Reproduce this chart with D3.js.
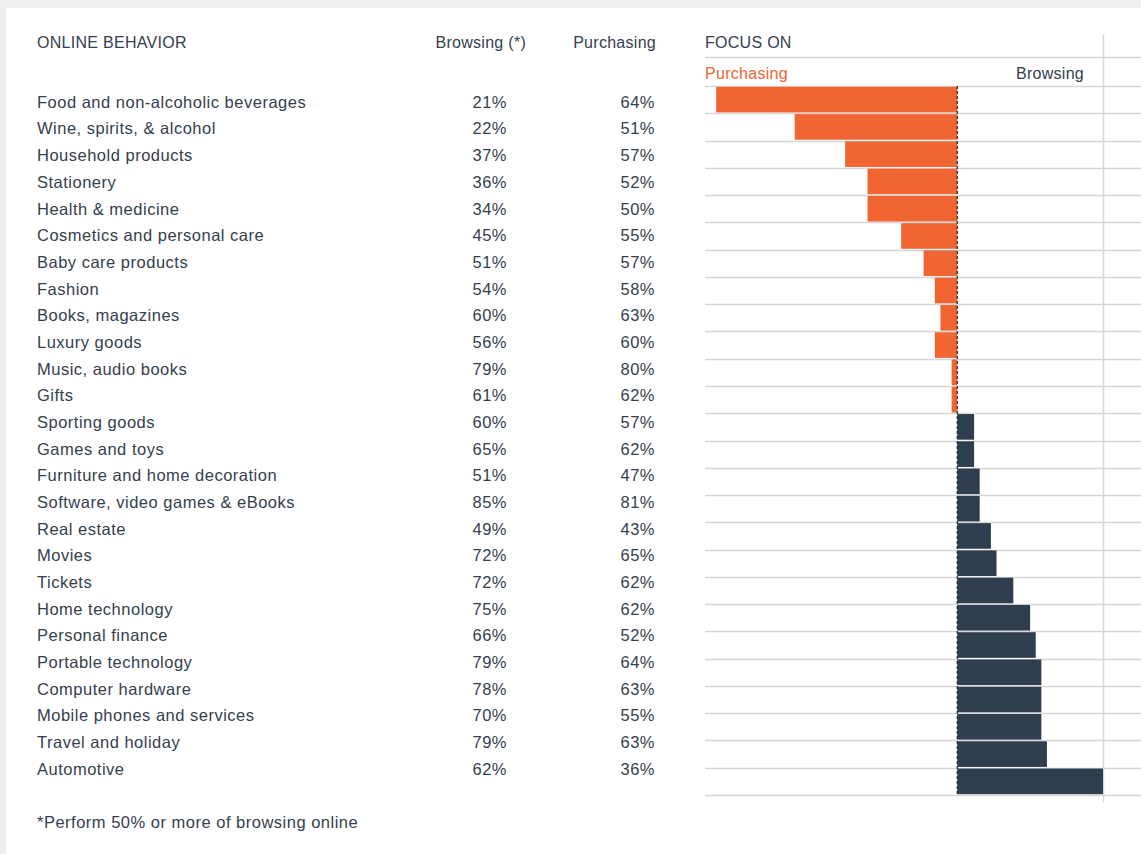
<!DOCTYPE html>
<html>
<head>
<meta charset="utf-8">
<script src="https://cdn.jsdelivr.net/npm/d3@7"></script>
<style>
  html, body { margin: 0; padding: 0; background: #efefef; }
  svg { display: block; font-family: "Liberation Sans", Arial, Helvetica, sans-serif; }
  .head { font-size: 16px; letter-spacing: 0.28px; }
  .body { font-size: 16.5px; letter-spacing: 0.5px; }
</style>
</head>
<body>
<svg id="chart" width="1141" height="854"></svg>
<script>
// Share of consumers doing each activity online, per product category
const categories = [
  "Food and non-alcoholic beverages", "Wine, spirits, & alcohol", "Household products",
  "Stationery", "Health & medicine", "Cosmetics and personal care", "Baby care products",
  "Fashion", "Books, magazines", "Luxury goods", "Music, audio books", "Gifts",
  "Sporting goods", "Games and toys", "Furniture and home decoration",
  "Software, video games & eBooks", "Real estate", "Movies", "Tickets", "Home technology",
  "Personal finance", "Portable technology", "Computer hardware",
  "Mobile phones and services", "Travel and holiday", "Automotive"
];
const browsing   = [21, 22, 37, 36, 34, 45, 51, 54, 60, 56, 79, 61, 60, 65, 51, 85, 49, 72, 72, 75, 66, 79, 78, 70, 79, 62];
const purchasing = [64, 51, 57, 52, 50, 55, 57, 58, 63, 60, 80, 62, 57, 62, 47, 81, 43, 65, 62, 62, 52, 64, 63, 55, 63, 36];

const headers = { behavior: "ONLINE BEHAVIOR", browsing: "Browsing (*)", purchasing: "Purchasing", focus: "FOCUS ON" };
const focusLabels = { left: "Purchasing", right: "Browsing" };
const footnote = "*Perform 50% or more of browsing online";

const rows = categories.map((c, i) => ({
  name: c, browsing: browsing[i], purchasing: purchasing[i], focus: browsing[i] - purchasing[i]
}));

const textColor = "#34404e";
const orange = "#f16532";
const navy = "#2e3e4e";
const gridColor = "#d6d6d6";

const svg = d3.select("#chart");

// page panel
svg.append("rect").attr("x", 0).attr("y", 0).attr("width", 1141).attr("height", 854).attr("fill", "#efefef");
svg.append("rect").attr("x", 6).attr("y", 8).attr("width", 1135).attr("height", 846).attr("fill", "#ffffff");

// ---------- table ----------
const rowY = d3.scalePoint().domain(d3.range(rows.length)).range([102, 769]);

const table = svg.append("g").attr("fill", textColor);

table.append("text").attr("class", "head").attr("x", 37).attr("y", 42).attr("dy", "0.35em").text(headers.behavior);
table.append("text").attr("class", "head").attr("x", 526).attr("y", 42).attr("dy", "0.35em").attr("text-anchor", "end").text(headers.browsing);
table.append("text").attr("class", "head").attr("x", 656).attr("y", 42).attr("dy", "0.35em").attr("text-anchor", "end").text(headers.purchasing);

const tr = table.selectAll("g.row").data(rows).join("g")
  .attr("class", "row body")
  .attr("transform", (d, i) => `translate(0,${rowY(i)})`);
tr.append("text").attr("x", 37).attr("dy", "0.35em").text(d => d.name);
tr.append("text").attr("x", 507).attr("dy", "0.35em").attr("text-anchor", "end").text(d => d.browsing + "%");
tr.append("text").attr("x", 655).attr("dy", "0.35em").attr("text-anchor", "end").text(d => d.purchasing + "%");

table.append("text").attr("class", "body").attr("x", 37).attr("y", 822).attr("dy", "0.35em").text(footnote);

// ---------- diverging bar chart ----------
const x = d3.scaleLinear().domain([-45, 26]).range([705, 1103]);
const y = d3.scaleBand().domain(d3.range(rows.length)).range([86, 795]).paddingInner(0.06).paddingOuter(0.03);

const chart = svg.append("g");

chart.append("text").attr("class", "head").attr("x", 705).attr("y", 42).attr("dy", "0.35em")
  .attr("fill", textColor).text(headers.focus);
chart.append("text").attr("class", "head").attr("x", 705).attr("y", 73).attr("dy", "0.35em")
  .attr("fill", orange).text(focusLabels.left);
chart.append("text").attr("class", "head").attr("x", 1084).attr("y", 73).attr("dy", "0.35em").attr("text-anchor", "end")
  .attr("fill", textColor).text(focusLabels.right);

// row separators
const sepY = [57].concat(d3.range(rows.length + 1).map(i => 86 + i * (795 - 86) / rows.length));
chart.selectAll("line.sep").data(sepY).join("line")
  .attr("class", "sep")
  .attr("x1", 705).attr("x2", 1141)
  .attr("y1", d => Math.round(d) + 0.5).attr("y2", d => Math.round(d) + 0.5)
  .attr("stroke", gridColor).attr("stroke-width", 1.5);

// right boundary
chart.append("line")
  .attr("x1", x(26) + 0.5).attr("x2", x(26) + 0.5).attr("y1", 35).attr("y2", 802)
  .attr("stroke", gridColor).attr("stroke-width", 1.5);

chart.selectAll("rect.bar").data(rows).join("rect")
  .attr("class", "bar")
  .attr("x", d => x(Math.min(0, d.focus)))
  .attr("width", d => Math.abs(x(d.focus) - x(0)))
  .attr("y", (d, i) => y(i))
  .attr("height", y.bandwidth())
  .attr("fill", d => d.focus < 0 ? orange : navy);

// zero line
chart.append("line")
  .attr("x1", x(0)).attr("x2", x(0)).attr("y1", 86).attr("y2", 796)
  .attr("stroke", "#222").attr("stroke-width", 1.2).attr("stroke-dasharray", "3,2");
</script>
</body>
</html>
